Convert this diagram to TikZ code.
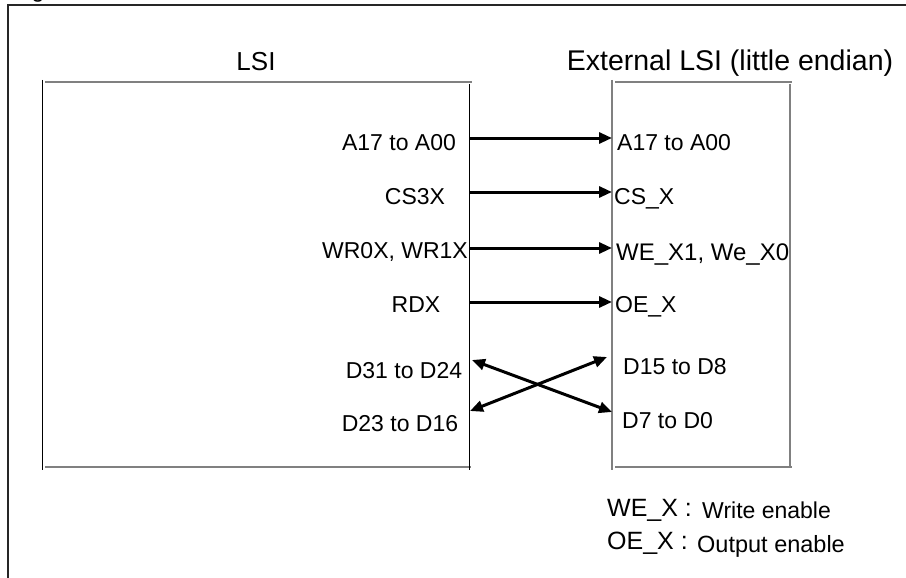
\documentclass[tikz,border=0pt]{standalone}
\usepackage{fontspec}
\setmainfont{Liberation Sans}
\usetikzlibrary{arrows.meta}
\begin{document}
\begin{tikzpicture}[x=1pt,y=-1pt,
  lbl/.style={inner sep=0pt, anchor=base, font=\fontsize{23}{27}\selectfont},
  rlbl/.style={inner sep=0pt, anchor=base west, font=\fontsize{23}{27}\selectfont},
  ttl/.style={inner sep=0pt, anchor=base, font=\fontsize{26}{30}\selectfont},
  legk/.style={inner sep=0pt, anchor=base west, font=\fontsize{25}{29}\selectfont},
  legv/.style={inner sep=0pt, anchor=base west, font=\fontsize{23}{27}\selectfont},
  edge/.style={draw=gray, line width=1.5pt},
  edgek/.style={draw=black, line width=1pt},
  sig/.style={line width=3pt, -{Triangle[length=13pt,width=11pt]}},
  bisig/.style={line width=3pt, {Triangle[length=13pt,width=11pt]}-{Triangle[length=13pt,width=11pt]}}]
\useasboundingbox (0,0) rectangle (906,578);
% outer frame
\draw[line width=1.2pt, black!85] (8,578) -- (8,5) -- (906,5);
\node[inner sep=0pt, anchor=base, font=\fontsize{23}{27}\selectfont] (cut) at (38,-2) {g};
% titles
\node[ttl] (t1) at (256,71) {LSI};
\node[ttl, font=\fontsize{28.5}{32}\selectfont] (t2) at (730,71) {External LSI (little endian)};
% LSI box
\draw[edge] (45,82) -- (472,82);
\draw[edge] (45,467) -- (471,467);
\draw[edgek] (42,80) -- (42,470);
\draw[edgek] (469,84) -- (469,470);
% External box
\draw[edge] (615,82) -- (792,82);
\draw[edge] (615,467) -- (792,467);
\draw[edge] (612,80) -- (612,470);
\draw[edge] (790,84) -- (790,468);
% left labels
\node[lbl] (l1) at (399,150) {A17 to A00};
\node[lbl] (l2) at (415,204) {CS3X};
\node[lbl] (l3) at (395,258) {WR0X, WR1X};
\node[lbl] (l4) at (416,312) {RDX};
\node[lbl] (l5) at (404,378) {D31 to D24};
\node[lbl] (l6) at (400,431) {D23 to D16};
% right labels
\node[rlbl] (r1) at (617,150) {A17 to A00};
\node[rlbl] (r2) at (614,204) {CS\_X};
\node[rlbl, font=\fontsize{24}{28}\selectfont] (r3) at (616,260) {WE\_X1, We\_X0};
\node[rlbl] (r4) at (615,312) {OE\_X};
\node[rlbl] (r5) at (623,374) {D15 to D8};
\node[rlbl] (r6) at (622,428) {D7 to D0};
% connector end points
\coordinate (a1) at (469,138); \coordinate (b1) at (612,138);
\coordinate (a2) at (469,192); \coordinate (b2) at (612,192);
\coordinate (a3) at (469,248); \coordinate (b3) at (612,248);
\coordinate (a4) at (469,302); \coordinate (b4) at (612,302);
\coordinate (a5) at (472,360); \coordinate (b6) at (612,412);
\coordinate (a6) at (470,411); \coordinate (b5) at (607,357);
\draw[sig] (a1) -- (b1);
\draw[sig] (a2) -- (b2);
\draw[sig] (a3) -- (b3);
\draw[sig] (a4) -- (b4);
\draw[bisig] (a5) -- (b6);
\draw[bisig] (a6) -- (b5);
% legend
\node[legk] (k1) at (607,516) {WE\_X :};
\node[legv] (v1) at (702,518) {Write enable};
\node[legk] (k2) at (607,549) {OE\_X :};
\node[legv, font=\fontsize{23.5}{27}\selectfont] (v2) at (697,552) {Output enable};
\end{tikzpicture}
\end{document}
